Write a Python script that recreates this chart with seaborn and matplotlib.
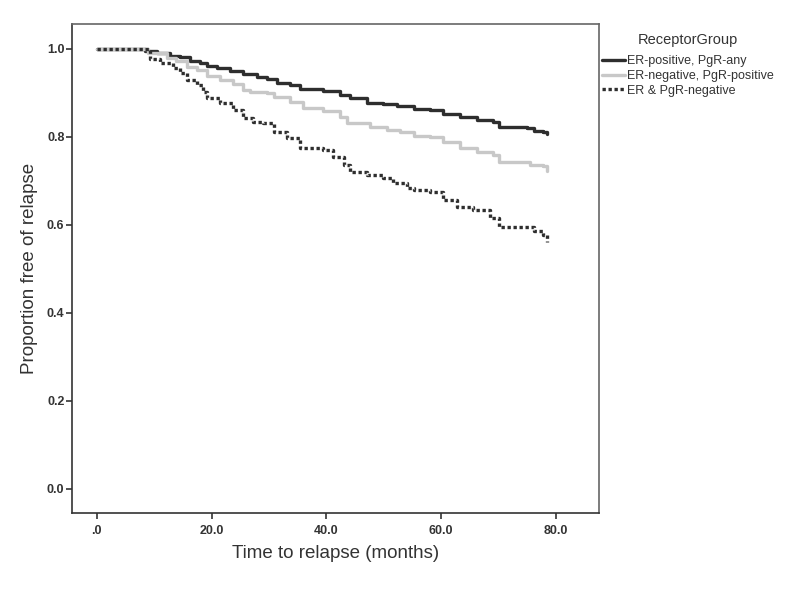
import matplotlib
matplotlib.use("Agg")
import matplotlib.pyplot as plt
import seaborn as sns
import pandas as pd

# Kaplan-Meier style step curves (months, proportion free)
er_pos_t = [0, 8.4, 10.5, 12.8, 14.5, 16.2, 18.0, 19.2, 20.9, 23.2, 25.5, 27.9,
            29.6, 31.4, 33.7, 35.4, 39.5, 42.4, 44.1, 47.0, 49.9, 52.3, 55.2,
            58.1, 60.4, 63.3, 66.2, 69.1, 70.0, 74.9, 76.1, 77.8, 78.4]
er_pos_s = [1.0, 0.995, 0.990, 0.985, 0.981, 0.973, 0.968, 0.961, 0.956, 0.950,
            0.943, 0.936, 0.931, 0.923, 0.918, 0.909, 0.905, 0.895, 0.889, 0.878,
            0.875, 0.870, 0.864, 0.861, 0.852, 0.845, 0.839, 0.833, 0.822, 0.820,
            0.814, 0.812, 0.806]

er_neg_t = [0, 9.0, 12.2, 13.9, 15.7, 17.4, 19.2, 21.5, 23.8, 25.5, 26.7, 29.6,
            30.8, 33.7, 36.0, 39.5, 42.4, 43.6, 47.6, 50.5, 52.8, 55.2, 58.1,
            60.4, 63.3, 66.2, 69.1, 70.0, 75.5, 77.8, 78.4]
er_neg_s = [1.0, 0.992, 0.979, 0.973, 0.960, 0.952, 0.939, 0.930, 0.920, 0.907,
            0.903, 0.901, 0.890, 0.880, 0.865, 0.860, 0.846, 0.831, 0.823, 0.816,
            0.812, 0.802, 0.801, 0.788, 0.774, 0.767, 0.759, 0.744, 0.736, 0.734,
            0.723]

both_neg_t = [0, 8.1, 9.3, 11.0, 13.3, 14.5, 15.7, 17.4, 18.6, 19.2, 21.5, 23.8,
              25.5, 27.3, 29.0, 30.8, 33.1, 35.4, 39.5, 41.2, 43.0, 44.1, 47.0,
              49.9, 51.7, 54.0, 55.2, 58.1, 60.4, 62.7, 65.6, 68.5, 70.0, 76.1,
              77.8, 78.4]
both_neg_s = [1.0, 0.999, 0.977, 0.968, 0.956, 0.945, 0.930, 0.918, 0.903, 0.888,
              0.877, 0.861, 0.843, 0.833, 0.831, 0.812, 0.797, 0.774, 0.770, 0.755,
              0.736, 0.721, 0.714, 0.706, 0.696, 0.683, 0.680, 0.676, 0.657, 0.642,
              0.633, 0.615, 0.596, 0.587, 0.577, 0.562]

groups = ["ER-positive, PgR-any", "ER-negative, PgR-positive", "ER & PgR-negative"]
x_ticks = [0, 20, 40, 60, 80]
x_tick_labels = [".0", "20.0", "40.0", "60.0", "80.0"]
y_ticks = [0.0, 0.2, 0.4, 0.6, 0.8, 1.0]
y_tick_labels = ["0.0", "0.2", "0.4", "0.6", "0.8", "1.0"]

frames = []
for name, t, s in zip(groups, [er_pos_t, er_neg_t, both_neg_t],
                      [er_pos_s, er_neg_s, both_neg_s]):
    frames.append(pd.DataFrame({"time": t, "surv": s, "ReceptorGroup": name}))
df = pd.concat(frames, ignore_index=True)

sns.set_style("white")
plt.rcParams["font.family"] = ["Liberation Sans", "DejaVu Sans"]

fig = plt.figure(figsize=(7.94, 5.94), dpi=100)
ax = fig.add_axes([0.0907, 0.1364, 0.6637, 0.8232])

palette = {groups[0]: "#2e2e2e", groups[1]: "#c8c8c8", groups[2]: "#2e2e2e"}
dashes = {groups[0]: "", groups[1]: "", groups[2]: (1, 0.8)}
sns.lineplot(data=df, x="time", y="surv", hue="ReceptorGroup", style="ReceptorGroup",
             hue_order=groups, style_order=groups, palette=palette, dashes=dashes,
             drawstyle="steps-post", linewidth=2.4, estimator=None, sort=False, ax=ax)

ax.set_xlim(-4.3, 87.5)
ax.set_ylim(-0.0545, 1.0568)
ax.set_xticks(x_ticks)
ax.set_xticklabels(x_tick_labels)
ax.set_yticks(y_ticks)
ax.set_yticklabels(y_tick_labels)
ax.tick_params(axis="both", direction="out", length=4.5, width=1.2, colors="#333333",
               labelsize=9)
for lab in ax.get_xticklabels() + ax.get_yticklabels():
    lab.set_fontweight("bold")
ax.tick_params(axis="x", pad=4)
ax.tick_params(axis="y", pad=1)
ax.xaxis.set_ticks_position("bottom")
ax.yaxis.set_ticks_position("left")
for side in ["left", "bottom"]:
    ax.spines[side].set_color("#333333")
    ax.spines[side].set_linewidth(1.2)
for side in ["top", "right"]:
    ax.spines[side].set_color("#666666")
    ax.spines[side].set_linewidth(1.2)

ax.set_xlabel("Time to relapse (months)", fontsize=13.5, color="#333333", labelpad=6)
ax.set_ylabel("Proportion free of relapse", fontsize=13.5, color="#333333", labelpad=6)

leg = ax.legend(title="ReceptorGroup", loc="upper left", bbox_to_anchor=(1.006, 0.982),
                frameon=False, fontsize=9, title_fontsize=10.5, handlelength=1.85,
                handletextpad=0.15, labelspacing=0.22, borderaxespad=0, borderpad=0)
leg._legend_box.align = "center"
leg._legend_box.sep = 6
for txt in leg.get_texts():
    txt.set_color("#333333")
leg.get_title().set_color("#333333")

fig.savefig("out.png", dpi=100)
